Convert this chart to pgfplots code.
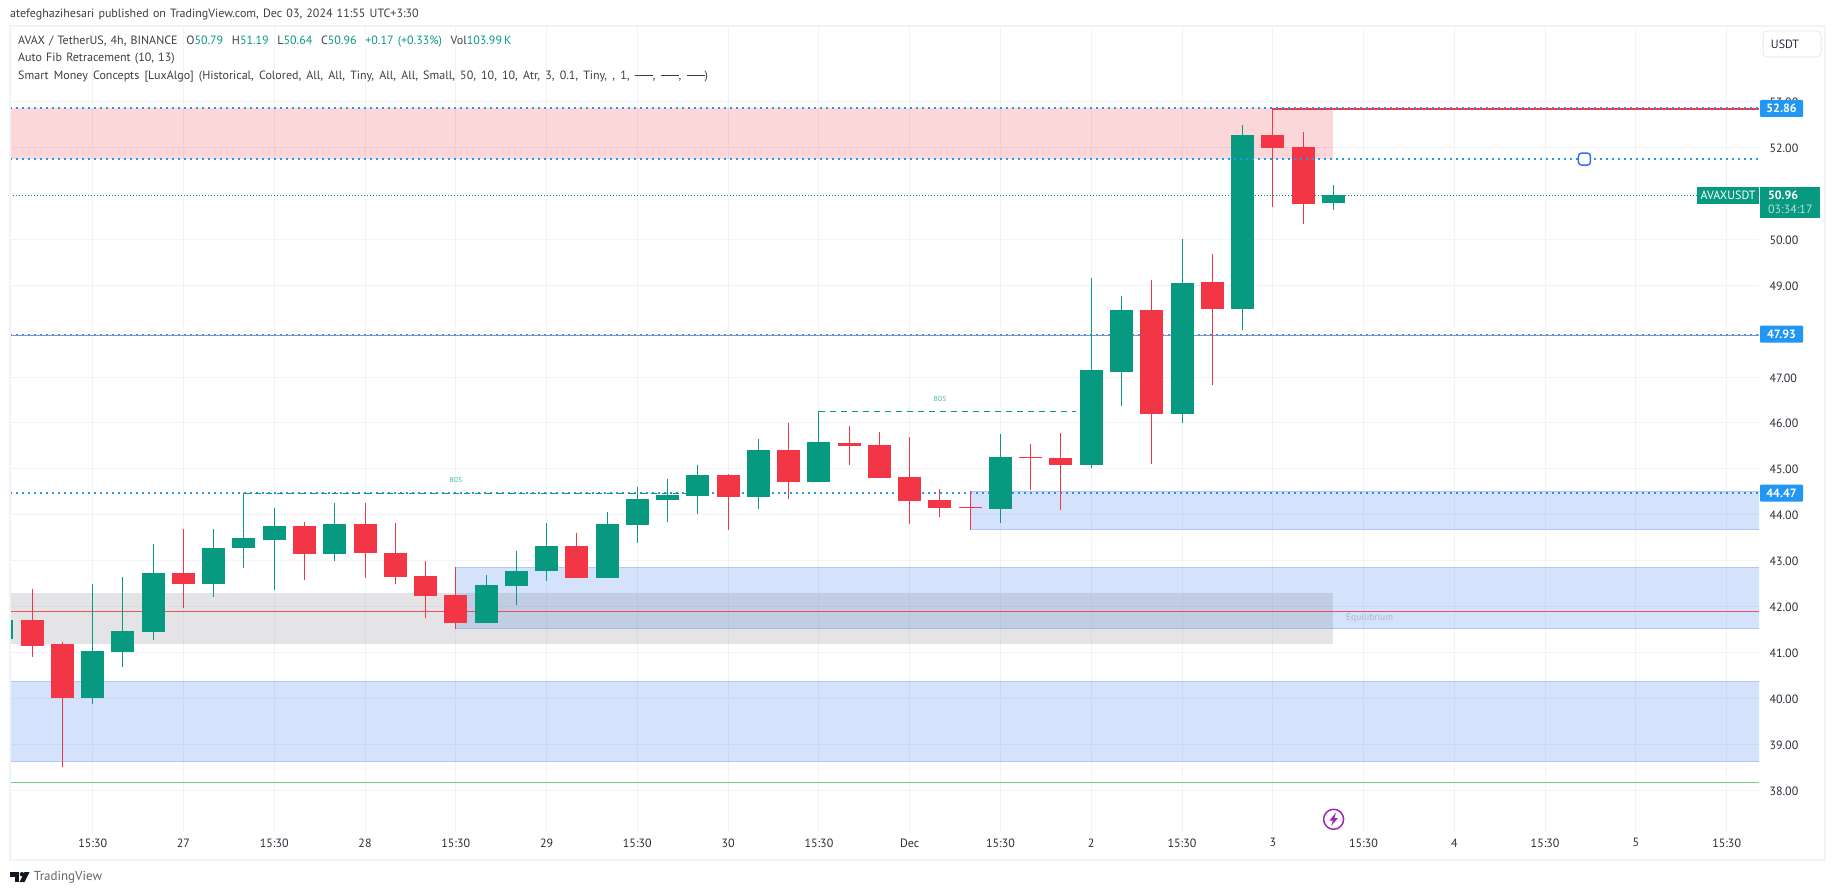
\documentclass[border=0pt]{standalone}
\usepackage{pgfplots}
\usepackage{pgfplotstable}
\usepackage{fontspec}
\setmainfont[WordSpace=1.3]{PT Sans}
\pgfplotsset{compat=1.18}
\definecolor{cgreen}{HTML}{089981}
\definecolor{cred}{HTML}{F23645}
\definecolor{cblue}{HTML}{2196F3}
\definecolor{zblue}{RGB}{45,110,240}
\definecolor{zpink}{RGB}{235,55,70}
\definecolor{zgray}{HTML}{787B86}
\definecolor{gridc}{HTML}{F2F3F6}
\definecolor{framec}{HTML}{F0F3FA}
\definecolor{txt}{HTML}{2A2E39}
\definecolor{hdr}{HTML}{3C3F47}
\pgfplotstableread{
i top bot hi lo
-3 41.708 41.295 41.708 41.295
0 41.033 40.000 42.492 39.887
1 41.469 41.019 42.645 40.692
2 42.732 41.447 43.363 41.273
4 43.276 42.492 43.690 42.209
5 43.494 43.276 44.473 42.840
6 43.755 43.450 44.147 42.360
8 43.800 43.145 44.256 42.993
13 42.470 41.643 42.688 41.643
14 42.775 42.449 43.211 42.035
15 43.320 42.775 43.820 42.558
17 43.800 42.623 44.060 42.623
18 44.343 43.777 44.604 43.385
19 44.430 44.321 44.779 43.842
20 44.866 44.408 45.083 44.017
22 45.410 44.387 45.650 44.125
24 45.584 44.713 46.252 44.713
30 45.258 44.125 45.758 43.821
33 47.152 45.083 49.155 45.018
34 48.458 47.108 48.763 46.368
36 49.046 46.194 50.004 46.000
38 52.268 48.480 52.486 48.023
41 50.960 50.790 51.190 50.640
}\greenbars
\pgfplotstableread{
i top bot hi lo
-2 41.708 41.150 42.383 40.910
-1 41.186 40.000 41.230 38.515
3 42.732 42.492 43.690 41.970
7 43.755 43.145 43.840 42.580
9 43.800 43.167 44.256 42.623
10 43.167 42.645 43.820 42.492
11 42.666 42.231 42.993 41.752
12 42.253 41.643 42.862 41.512
16 43.320 42.623 43.603 42.623
21 44.866 44.387 44.887 43.668
23 45.410 44.713 45.998 44.343
25 45.562 45.497 45.932 45.083
26 45.519 44.800 45.802 44.800
27 44.822 44.300 45.693 43.799
28 44.321 44.147 44.561 43.951
29 44.169 44.147 44.517 43.668
31 45.258 45.236 45.541 44.539
32 45.236 45.083 45.780 44.104
35 48.458 46.194 49.111 45.105
37 49.068 48.480 49.677 46.825
39 52.268 51.985 52.856 50.700
40 52.007 50.766 52.334 50.330
}\redbars
\newcommand{\Xa}{-2.733}
\newcommand{\Xb}{55.07}
\newcommand{\Dsh}{\rule[3.6pt]{18pt}{0.8pt}}
\begin{document}
\begin{tikzpicture}[x=1pt,y=1pt]
\fill[white] (0,0) rectangle (1835,895);
\useasboundingbox (0,0) rectangle (1835,895);
\begin{axis}[
  at={(10pt,63pt)}, anchor=south west,
  width=1749pt, height=805pt, scale only axis,
  xmin=\Xa, xmax=\Xb, ymin=37.092, ymax=54.623,
  axis line style={draw=none},
  clip mode=individual,
  grid=major, major grid style={gridc, line width=1pt},
  major tick length=0pt,
  xtick={0,3,...,54},
  xticklabels={15:30,27,15:30,28,15:30,29,15:30,30,15:30,Dec,15:30,2,15:30,3,15:30,4,15:30,5,15:30},
  ytick={38,39,...,53},
  yticklabel pos=right,
  /pgf/number format/assume math mode=true,
  /pgf/number format/fixed, /pgf/number format/fixed zerofill, /pgf/number format/precision=2,
  y tick label style={font=\fontsize{12}{14}\selectfont, text=txt, anchor=west, xshift=7pt, yshift=-0.8pt},
  x tick label style={font=\fontsize{12}{14}\selectfont, text=txt, yshift=-3pt},
]
% zones
\addplot[fill=zblue, fill opacity=.2, draw=zblue, draw opacity=.22, line width=1pt, forget plot] coordinates {(-4,40.373)(56,40.373)(56,38.624)(-4,38.624)} --cycle;
\addplot[fill=zblue, fill opacity=.2, draw=zblue, draw opacity=.22, line width=1pt, forget plot] coordinates {(12,42.855)(56,42.855)(56,41.520)(12,41.520)} --cycle;
\addplot[fill=zblue, fill opacity=.2, draw=zblue, draw opacity=.22, line width=1pt, forget plot] coordinates {(29,44.510)(56,44.510)(56,43.676)(29,43.676)} --cycle;
\addplot[fill=zgray, fill opacity=.2, draw=none, forget plot] coordinates {(-4,42.296)(41,42.296)(41,41.186)(-4,41.186)} --cycle;
\addplot[fill=zpink, fill opacity=.2, draw=none, forget plot] coordinates {(-4,52.856)(41,52.856)(41,51.746)(-4,51.746)} --cycle;
% levels
\addplot[cred, opacity=.85, line width=1pt, forget plot] coordinates {(\Xa,41.897)(\Xb,41.897)};
\addplot[color={rgb,255:red,124;green,203;blue,127}, line width=1.2pt, forget plot] coordinates {(\Xa,38.17)(\Xb,38.17)};
\addplot[cblue, line width=2pt, dash pattern=on 2pt off 4pt, forget plot] coordinates {(\Xa,44.47)(\Xb,44.47)};
\addplot[color={rgb,255:red,125;green,145;blue,195}, line width=1.2pt, forget plot] coordinates {(\Xa,47.90)(\Xb,47.90)};
\addplot[cblue, line width=1.2pt, dash pattern=on 2pt off 4pt, forget plot] coordinates {(\Xa,47.935)(\Xb,47.935)};
\addplot[cgreen!85!black, line width=1pt, dash pattern=on 1.2pt off 1.8pt, forget plot] coordinates {(\Xa,50.96)(\Xb,50.96)};
% structure breaks
\addplot[cgreen, line width=1pt, dash pattern=on 6pt off 5pt, forget plot] coordinates {(5,44.473)(20,44.473)};
\addplot[cgreen, line width=1pt, dash pattern=on 6pt off 5pt, forget plot] coordinates {(24,46.252)(32.5,46.252)};
% wicks and bodies
\addplot[draw=none, mark=none, forget plot, error bars/.cd, y dir=plus, y explicit, error mark=none, error bar style={cgreen, line width=1pt}] table[x=i, y=lo, y error expr=\thisrow{hi}-\thisrow{lo}] {\greenbars};
\addplot[draw=none, mark=none, forget plot, error bars/.cd, y dir=plus, y explicit, error mark=none, error bar style={cred, line width=1pt}] table[x=i, y=lo, y error expr=\thisrow{hi}-\thisrow{lo}] {\redbars};
\addplot[draw=none, mark=none, forget plot, error bars/.cd, y dir=plus, y explicit, error mark=none, error bar style={cgreen, line width=23pt}] table[x=i, y=bot, y error expr=\thisrow{top}-\thisrow{bot}] {\greenbars};
\addplot[draw=none, mark=none, forget plot, error bars/.cd, y dir=plus, y explicit, error mark=none, error bar style={cred, line width=23pt}] table[x=i, y=bot, y error expr=\thisrow{top}-\thisrow{bot}] {\redbars};
% levels above candles
\addplot[cred, line width=1.4pt, forget plot] coordinates {(39,52.84)(\Xb,52.84)};
\addplot[cblue, line width=2pt, dash pattern=on 2pt off 4pt, forget plot] coordinates {(\Xa,52.86)(\Xb,52.86)};
\addplot[cblue, line width=2pt, dash pattern=on 2pt off 4pt, forget plot] coordinates {(\Xa,51.746)(\Xb,51.746)};
% annotations
\node[text={rgb,255:red,70;green,185;blue,165}, font=\fontsize{7}{8}\selectfont] at (axis cs:12,44.75) {BOS};
\node[text={rgb,255:red,70;green,185;blue,165}, font=\fontsize{7}{8}\selectfont] at (axis cs:28,46.53) {BOS};
\node[text={rgb,255:red,178;green,181;blue,190}, font=\fontsize{9.5}{11}\selectfont] at (axis cs:42.2,41.74) {Equilibrium};
\node[draw=zblue, fill=white, rounded corners=3pt, line width=1.4pt, minimum size=12pt, inner sep=0pt] at (axis cs:49.3,51.746) {};
\end{axis}
% frame
\draw[framec, line width=2pt] (9.5,869) rectangle (1825,35.5);
% price tags
\newcommand{\Ptag}[2]{\fill[cblue,rounded corners=1pt] (1760,{895-#1-8.5}) rectangle (1803,{895-#1+8.5});
  \node[text=white, font=\fontsize{12}{14}\selectfont\bfseries, anchor=center] at (1781.5,{895-#1}) {#2};}
\Ptag{108.5}{52.86}
\Ptag{334.2}{47.93}
\Ptag{493.2}{44.47}
\fill[cgreen] (1697,{895-187}) rectangle (1759,{895-203.7});
\node[text=white, font=\fontsize{12}{14}\selectfont] at (1728,{895-195.3}) {AVAXUSDT};
\fill[cgreen] (1760,{895-187}) rectangle (1820,{895-217.7});
\node[text=white, font=\fontsize{12}{14}\selectfont\bfseries, anchor=west] at (1764.5,{895-195.5}) {50.96};
\node[text=white!70!cgreen, font=\fontsize{12}{14}\selectfont, anchor=west] at (1764.5,{895-209.5}) {03:34:17};
% currency button
\draw[fill=white, draw=framec!80!gray!60, line width=1pt, rounded corners=4pt] (1763,{895-31}) rectangle (1821,{895-57});
\node[text=txt, font=\fontsize{12}{14}\selectfont] at (1785,{895-44.5}) {USDT};
% header
\node[anchor=west, text=hdr, font=\fontsize{12}{14}\selectfont, inner sep=0pt] at (10,{895-15}) {atefeghazihesari published on TradingView.com, Dec 03, 2024 11:55 UTC+3:30};
\node[anchor=west, text=hdr, font=\fontsize{12}{14}\selectfont, inner sep=0pt] at (18,{895-41.7}) {AVAX / TetherUS, 4h, BINANCE\hspace{8.7pt}O\textcolor{cgreen}{50.79}\hspace{8.7pt}H\textcolor{cgreen}{51.19}\hspace{8.7pt}L\textcolor{cgreen}{50.64}\hspace{8.7pt}C\textcolor{cgreen}{50.96}\hspace{8.7pt}\textcolor{cgreen}{+0.17 (+0.33\%)}\hspace{8.7pt}Vol\textcolor{cgreen}{103.99\,K}};
\node[anchor=west, text=hdr, font=\fontsize{12}{14}\selectfont, inner sep=0pt] at (18,{895-59}) {Auto Fib Retracement (10, 13)};
\node[anchor=west, text=hdr, font=\fontsize{12}{14}\selectfont, inner sep=0pt] at (18,{895-76.3}) {\spaceskip=5.2pt Smart Money Concepts [LuxAlgo] (Historical, Colored, All, All, Tiny, All, All, Small, 50, 10, 10, Atr, 3, 0.1, Tiny, , 1, \Dsh, \Dsh, \Dsh)};
% lightning icon
\draw[color={rgb,255:red,156;green,39;blue,176}, line width=1.5pt] (1333.6,{895-819.3}) circle (10);
\fill[color={rgb,255:red,156;green,39;blue,176}] (1336,{895-812.5}) -- (1329.5,{895-820.5}) -- (1333,{895-820.5}) -- (1331,{895-826}) -- (1338,{895-818}) -- (1334.5,{895-818}) -- cycle;
% logo
\fill[color={rgb,255:red,19;green,23;blue,34}] (10,{895-872}) rectangle (19,{895-876.5});
\fill[color={rgb,255:red,19;green,23;blue,34}] (14.5,{895-872}) rectangle (19,{895-882});
\fill[color={rgb,255:red,19;green,23;blue,34}] (22,{895-874.2}) circle (2.2);
\fill[color={rgb,255:red,19;green,23;blue,34}] (24.5,{895-872}) -- (29.5,{895-872}) -- (24.5,{895-882}) -- (19.5,{895-882}) -- cycle;
\node[anchor=west, text=hdr!80!white, font=\fontsize{13}{15}\selectfont, inner sep=0pt] at (33.7,{895-877}) {TradingView};
\end{tikzpicture}
\end{document}
